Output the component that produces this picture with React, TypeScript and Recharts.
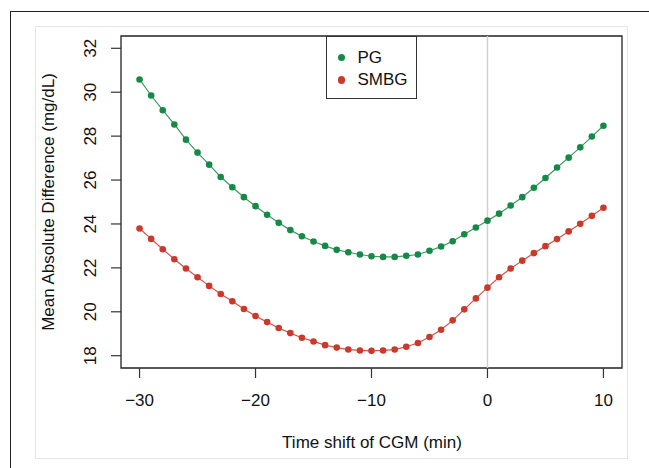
import React from 'react';
import { LineChart, Line, XAxis, YAxis, ReferenceLine, ReferenceArea, Legend } from 'recharts';

// time shift of CGM (min)
const shifts = [
  -30, -29, -28, -27, -26, -25, -24, -23, -22, -21, -20, -19, -18, -17, -16, -15, -14, -13, -12, -11, -10,
  -9, -8, -7, -6, -5, -4, -3, -2, -1, 0, 1, 2, 3, 4, 5, 6, 7, 8, 9, 10,
];

// mean absolute difference (mg/dL)
const pgValues = [
  30.58, 29.85, 29.18, 28.53, 27.84, 27.25, 26.7, 26.14, 25.67, 25.22, 24.81, 24.42, 24.05, 23.72, 23.44, 23.2,
  23.0, 22.82, 22.71, 22.61, 22.53, 22.5, 22.5, 22.55, 22.61, 22.78, 22.97, 23.21, 23.53, 23.84, 24.15, 24.47,
  24.84, 25.22, 25.65, 26.09, 26.57, 27.02, 27.49, 27.98, 28.47,
];
const smbgValues = [
  23.79, 23.32, 22.85, 22.39, 21.97, 21.57, 21.18, 20.81, 20.48, 20.13, 19.81, 19.53, 19.26, 19.03, 18.82, 18.65,
  18.48, 18.37, 18.28, 18.24, 18.22, 18.24, 18.28, 18.41, 18.58, 18.85, 19.18, 19.61, 20.11, 20.61, 21.1, 21.57,
  21.97, 22.33, 22.67, 22.99, 23.31, 23.66, 24.01, 24.37, 24.74,
];

const xTicks = [-30, -20, -10, 0, 10];
const yTicks = [18, 20, 22, 24, 26, 28, 30, 32];

const series = [
  { key: 'pg', name: 'PG', dot: '#158A47', line: '#3C9A62' },
  { key: 'smbg', name: 'SMBG', dot: '#C9392C', line: '#D0544A' },
];

const data = shifts.map((s, i) => ({ shift: s, pg: pgValues[i], smbg: smbgValues[i] }));

const FONT = '"Liberation Sans", Arial, Helvetica, sans-serif';

const fmt = (v: number) => (v < 0 ? '\u2212' + Math.abs(v) : String(v));

const YTick = (props: any) => {
  const { y, payload } = props;
  const bx = 96.5;
  return (
    <text x={bx} y={y} transform={`rotate(-90 ${bx} ${y})`} textAnchor="middle" fontSize={17} fill="#111" fontFamily={FONT}>
      {payload.value}
    </text>
  );
};

const LegendBox = () => (
  <div
    style={{
      width: 91,
      height: 63,
      boxSizing: 'border-box',
      border: '1.5px solid #333',
      background: '#fff',
      position: 'relative',
      fontFamily: FONT,
      fontSize: 17,
      color: '#111',
    }}
  >
    {series.map((s, i) => (
      <div key={s.key} style={{ position: 'absolute', left: 0, top: 9.5 + i * 22.6, height: 22, width: 89 }}>
        <span
          style={{
            position: 'absolute',
            left: 10.5,
            top: 7,
            width: 7.6,
            height: 7.6,
            borderRadius: '50%',
            background: s.dot,
          }}
        />
        <span style={{ position: 'absolute', left: 30.5, top: 0, lineHeight: '22px' }}>{s.name}</span>
      </div>
    ))}
  </div>
);

export default function App() {
  return (
    <div style={{ position: 'absolute', left: 0, top: 0, width: 649, height: 468, background: '#fff', overflow: 'hidden' }}>
      <div style={{ position: 'absolute', left: 10, top: 11, right: -5, bottom: -5, borderTop: '1.6px solid #222', borderLeft: '1.6px solid #222' }} />
      <div style={{ position: 'absolute', left: 35, top: 26, width: 593, height: 433, boxSizing: 'border-box', border: '1px solid #e6e6e6' }} />
      <div style={{ position: 'absolute', left: 0, top: 0 }}>
        <LineChart width={649} height={468} data={data} margin={{ top: 36, right: 27, bottom: 60, left: 61 }}>
          <XAxis
            dataKey="shift"
            type="number"
            domain={[-31.6, 11.6]}
            ticks={xTicks}
            allowDataOverflow
            height={40}
            axisLine={false}
            tickLine={{ stroke: '#333', strokeWidth: 1.2 }}
            tickSize={10}
            tickMargin={16}
            tickFormatter={fmt}
            tick={{ fontSize: 17, fill: '#111', fontFamily: FONT }}
            label={{
              content: () => (
                <text x={372} y={448} textAnchor="middle" fontSize={17} fill="#111" fontFamily={FONT}>
                  Time shift of CGM (min)
                </text>
              ),
            }}
          />
          <YAxis
            type="number"
            domain={[17.44, 32.56]}
            ticks={yTicks}
            allowDataOverflow
            width={60}
            axisLine={false}
            tickLine={{ stroke: '#333', strokeWidth: 1.2 }}
            tickSize={10}
            tick={<YTick />}
            label={{
              content: () => (
                <text x={54} y={202} transform="rotate(-90 54 202)" textAnchor="middle" fontSize={17} fill="#111" fontFamily={FONT}>
                  Mean Absolute Difference (mg/dL)
                </text>
              ),
            }}
          />
          <ReferenceArea x1={-31.6} x2={11.6} y1={17.44} y2={32.56} fill="none" stroke="#222" strokeWidth={1.3} />
          <ReferenceLine x={0} stroke="#cfcfcf" strokeWidth={1.5} />
          {series.map((s) => (
            <Line
              key={s.key}
              dataKey={s.key}
              name={s.name}
              type="linear"
              stroke={s.line}
              strokeWidth={1.2}
              dot={{ r: 3.3, fill: s.dot, stroke: 'none' }}
              isAnimationActive={false}
            />
          ))}
          <Legend
            layout="vertical"
            align="center"
            verticalAlign="middle"
            wrapperStyle={{ left: 326, top: 36, width: 91, height: 63 }}
            content={() => <LegendBox />}
          />
        </LineChart>
      </div>
    </div>
  );
}
